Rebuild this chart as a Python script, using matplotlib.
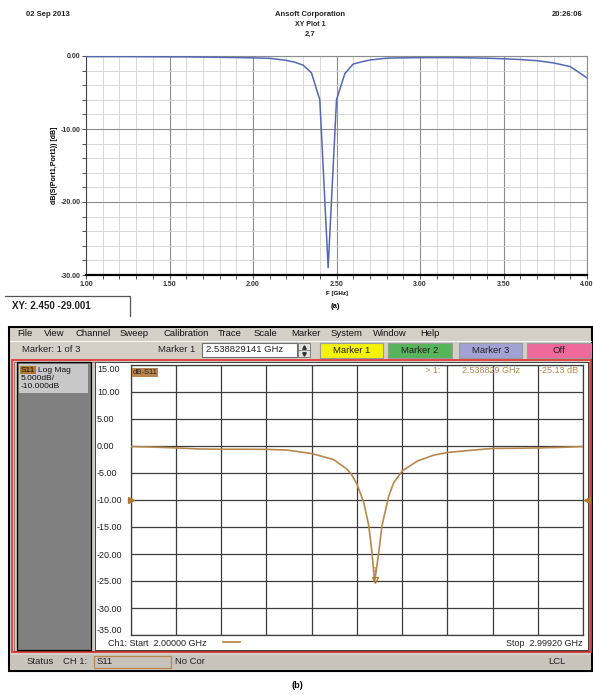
import numpy as np
import matplotlib
matplotlib.use('Agg')
import matplotlib.pyplot as plt
from matplotlib.patches import Rectangle
from matplotlib.ticker import MultipleLocator, FormatStrFormatter

plt.rcParams['font.family'] = ['Liberation Sans', 'DejaVu Sans']

# (a) simulated return loss (HFSS)
freq_sim = [1.00, 1.20, 1.40, 1.60, 1.80, 2.00, 2.10, 2.20, 2.25, 2.30, 2.35,
            2.40, 2.45, 2.50, 2.55, 2.60, 2.65, 2.70, 2.80, 2.90, 3.00, 3.20,
            3.40, 3.50, 3.60, 3.70, 3.80, 3.90, 4.00]
s11_sim = [-0.08, -0.08, -0.10, -0.12, -0.18, -0.25, -0.32, -0.60, -0.85, -1.25, -2.30,
           -6.00, -29.00, -6.00, -2.40, -1.10, -0.80, -0.55, -0.30, -0.25, -0.22, -0.22,
           -0.30, -0.38, -0.48, -0.64, -0.95, -1.45, -3.00]

# (b) measured return loss (network analyzer)
freq_meas = [2.000, 2.050, 2.100, 2.150, 2.200, 2.250, 2.300, 2.345, 2.400, 2.448,
             2.478, 2.488, 2.500, 2.515, 2.526, 2.533, 2.5388, 2.548, 2.555, 2.570,
             2.581, 2.600, 2.633, 2.669, 2.700, 2.758, 2.800, 2.850, 2.900, 2.950,
             2.9992]
s11_meas = [-0.10, -0.20, -0.35, -0.55, -0.60, -0.60, -0.62, -0.75, -1.40, -2.50,
            -4.30, -5.30, -7.10, -10.50, -14.80, -19.75, -25.13, -19.75, -14.80, -9.30,
            -6.80, -4.60, -2.80, -1.70, -1.20, -0.75, -0.45, -0.42, -0.36, -0.25,
            -0.10]

marker_f = 2.538829
marker_db = -25.13

W, H = 593, 695


def frac(l, t, r, b):
    return [l / W, 1 - b / H, (r - l) / W, (b - t) / H]


fig = plt.figure(figsize=(W / 100, H / 100), dpi=100)
fig.patch.set_facecolor('white')

bg = fig.add_axes([0, 0, 1, 1])
bg.set_xlim(0, W)
bg.set_ylim(H, 0)
bg.axis('off')

# ---------------- panel (a) ----------------
hdr = dict(fontsize=5.5, fontweight='bold', color='#222222')
bg.text(26, 15, '02 Sep 2013', ha='left', va='center', **hdr)
bg.text(310, 15, 'Ansoft Corporation', ha='center', va='center', **hdr)
bg.text(310, 25, 'XY Plot 1', ha='center', va='center', fontsize=5, fontweight='bold', color='#222222')
bg.text(310, 34, '2,7', ha='center', va='center', fontsize=5.5, fontweight='bold', color='#222222')
bg.text(583, 15, '20:26:06', ha='right', va='center', **hdr)

axa = fig.add_axes(frac(86, 56, 587, 275))
axa.plot(freq_sim, s11_sim, color='#5468b0', lw=1.1, zorder=3)
axa.set_xlim(1, 4)
axa.set_ylim(-30, 0)
axa.xaxis.set_major_locator(MultipleLocator(0.5))
axa.xaxis.set_minor_locator(MultipleLocator(0.1))
axa.yaxis.set_major_locator(MultipleLocator(10))
axa.yaxis.set_minor_locator(MultipleLocator(2))
axa.xaxis.set_major_formatter(FormatStrFormatter('%.2f'))
axa.yaxis.set_major_formatter(FormatStrFormatter('%.2f'))
axa.grid(which='major', color='#8c8c8c', lw=0.8)
axa.grid(which='minor', color='#d2d2d2', lw=0.6)
axa.set_axisbelow(True)
axa.tick_params(which='both', direction='out', length=3, width=0.6,
                colors='#333333', labelsize=5, pad=1)
for lbl in axa.get_xticklabels() + axa.get_yticklabels():
    lbl.set_fontweight('bold')
for side in ['top', 'right']:
    axa.spines[side].set_color('#8c8c8c')
    axa.spines[side].set_linewidth(0.8)
axa.spines['left'].set_color('#444444')
axa.spines['bottom'].set_color('black')
axa.spines['bottom'].set_linewidth(1.6)
axa.set_ylabel('dB(S(Port1,Port1)) [dB]', fontsize=5, fontweight='bold')
axa.set_xlabel('F [GHz]', fontsize=4.5, fontweight='bold')
axa.yaxis.set_label_coords(-0.055, 0.5)
axa.xaxis.set_label_coords(0.5, -0.072)

bg.plot([5, 130, 130], [296, 296, 316], color='#555555', lw=0.9)
bg.text(12, 306, 'XY: 2.450 -29.001', ha='left', va='center', fontsize=7,
        fontweight='bold', color='#222222')
bg.text(335, 307, '(a)', ha='center', va='center', fontsize=5.5, fontweight='bold')

# ---------------- panel (b) ----------------
bg.add_patch(Rectangle((9, 327), 583, 344, facecolor='#d4d0c8', edgecolor='black', lw=1.5))
menu = [('File', 17), ('View', 44), ('Channel', 75), ('Sweep', 120), ('Calibration', 163),
        ('Trace', 218), ('Scale', 254), ('Marker', 291), ('System', 331),
        ('Window', 373), ('Help', 420)]
for name, x in menu:
    bg.text(x, 333.5, name, ha='left', va='center', fontsize=6.8, color='#111111')
bg.plot([10, 591], [341, 341], color='#ffffff', lw=0.6)

bg.text(22, 349.5, 'Marker: 1 of 3', ha='left', va='center', fontsize=6.8, color='#222222')
bg.text(158, 349.5, 'Marker 1', ha='left', va='center', fontsize=6.8, color='#222222')
bg.add_patch(Rectangle((202, 343), 95, 14, facecolor='white', edgecolor='#707070', lw=0.8))
bg.text(206, 350, '2.538829141 GHz', ha='left', va='center', fontsize=6.8, color='#222222')
bg.add_patch(Rectangle((298, 343), 12, 14, facecolor='#e4e2dc', edgecolor='#707070', lw=0.6))
bg.plot([298, 310], [350, 350], color='#707070', lw=0.5)
bg.plot([304], [346.5], marker='^', ms=2.5, color='#333333')
bg.plot([304], [353.5], marker='v', ms=2.5, color='#333333')

buttons = [('Marker 1', 320, 383, '#f4f20a'), ('Marker 2', 388, 452, '#58b45c'),
           ('Marker 3', 459, 522, '#a2a2d4'), ('Off', 527, 591, '#ee6a9c')]
for name, x0, x1, col in buttons:
    bg.add_patch(Rectangle((x0, 343), x1 - x0, 15, facecolor=col, edgecolor='#9a9a9a', lw=0.8))
    bg.text((x0 + x1) / 2, 350.5, name, ha='center', va='center', fontsize=6.8, color='#222222')

# display frame
bg.add_patch(Rectangle((12, 360), 579, 292, facecolor='#d0ccc4', edgecolor='#e03a3a', lw=1.3))
bg.add_patch(Rectangle((14, 361.5), 575, 289, facecolor='none', edgecolor='#8a2020', lw=0.4))
bg.add_patch(Rectangle((17, 362), 74, 288, facecolor='#808080', edgecolor='black', lw=0.9))
bg.add_patch(Rectangle((19, 364), 69, 29, facecolor='#c8c8c8', edgecolor='none'))
bg.text(21, 370, 'S11', ha='left', va='center', fontsize=6, color='#111111',
        bbox=dict(facecolor='#b07a30', edgecolor='none', pad=0.6))
bg.text(38, 370, 'Log Mag', ha='left', va='center', fontsize=6, color='#111111')
bg.text(21, 379, '5.000dB/', ha='left', va='center', fontsize=6, color='#111111')
bg.text(21, 387, '-10.000dB', ha='left', va='center', fontsize=6, color='#111111')
bg.add_patch(Rectangle((95, 362), 493, 288, facecolor='white', edgecolor='#404040', lw=0.7))

axb = fig.add_axes(frac(130.7, 365, 583, 635))
axb.set_facecolor('white')
axb.plot(freq_meas, s11_meas, color='#b8894e', lw=1.2, zorder=3)
axb.set_xlim(2.0, 2.9992)
axb.set_ylim(-35, 15)
axb.set_xticks(np.linspace(2.0, 2.9992, 11))
axb.set_yticks(np.arange(-35, 16, 5))
axb.yaxis.set_major_formatter(FormatStrFormatter('%.2f'))
axb.grid(True, color='#3c3c3c', lw=0.9)
axb.set_axisbelow(True)
for sp in axb.spines.values():
    sp.set_color('#3c3c3c')
    sp.set_linewidth(0.9)
axb.tick_params(axis='x', length=0, labelbottom=False)
axb.tick_params(axis='y', length=0, pad=24.3, labelsize=6.5, labelcolor='#222222')
for lbl in axb.get_yticklabels():
    lbl.set_horizontalalignment('left')
ylbls = axb.get_yticklabels()
ylbls[0].set_verticalalignment('bottom')
ylbls[-1].set_verticalalignment('top')

trace_col = '#b07a30'
axb.plot([marker_f], [marker_db + 0.4], marker='v', ms=4.5, mfc='none', mec=trace_col,
         mew=0.9, zorder=4)
axb.text(marker_f, marker_db + 2.0, '1', ha='center', va='center', fontsize=5.5, color=trace_col)
axb.plot([2.0], [-10], marker='>', ms=4, color=trace_col, clip_on=False, zorder=5)
axb.plot([3.008], [-10], marker='<', ms=4, color=trace_col, clip_on=False, zorder=5)
axb.text(0.004, 0.985, 'dB-S11', transform=axb.transAxes, ha='left', va='top',
         fontsize=5.5, color='#222222', zorder=6,
         bbox=dict(facecolor='#b8864a', edgecolor='none', pad=0.6))
rd = dict(ha='left', va='center', fontsize=6.5, color='#b8894e', transform=bg.transData, zorder=6)
axb.text(425, 370.5, '> 1:', **rd)
axb.text(462, 370.5, '2.538829 GHz', **rd)
axb.text(539, 370.5, '-25.13 dB', **rd)

bg.text(108, 643, 'Ch1: Start  2.00000 GHz', ha='left', va='center', fontsize=6.5, color='#222222')
bg.plot([223, 240], [642, 642], color='#b8894e', lw=1.3)
bg.text(582, 643, 'Stop  2.99920 GHz', ha='right', va='center', fontsize=6.5, color='#222222')

# status bar
bg.add_patch(Rectangle((10, 655), 581, 14, facecolor='#c8c4bc', edgecolor='none'))
bg.text(27, 662, 'Status', ha='left', va='center', fontsize=6.8, color='#222222')
bg.text(63, 662, 'CH 1:', ha='left', va='center', fontsize=6.8, color='#222222')
bg.add_patch(Rectangle((94, 656), 77, 12, facecolor='none', edgecolor='#b8894e', lw=0.9))
bg.text(97, 662, 'S11', ha='left', va='center', fontsize=6.8, color='#222222')
bg.text(175, 662, 'No Cor', ha='left', va='center', fontsize=6.8, color='#222222')
bg.text(548, 662, 'LCL', ha='left', va='center', fontsize=6.8, color='#222222')

bg.text(297, 686, '(b)', ha='center', va='center', fontsize=6.5, fontweight='bold')

plt.savefig('out.png', dpi=100)
